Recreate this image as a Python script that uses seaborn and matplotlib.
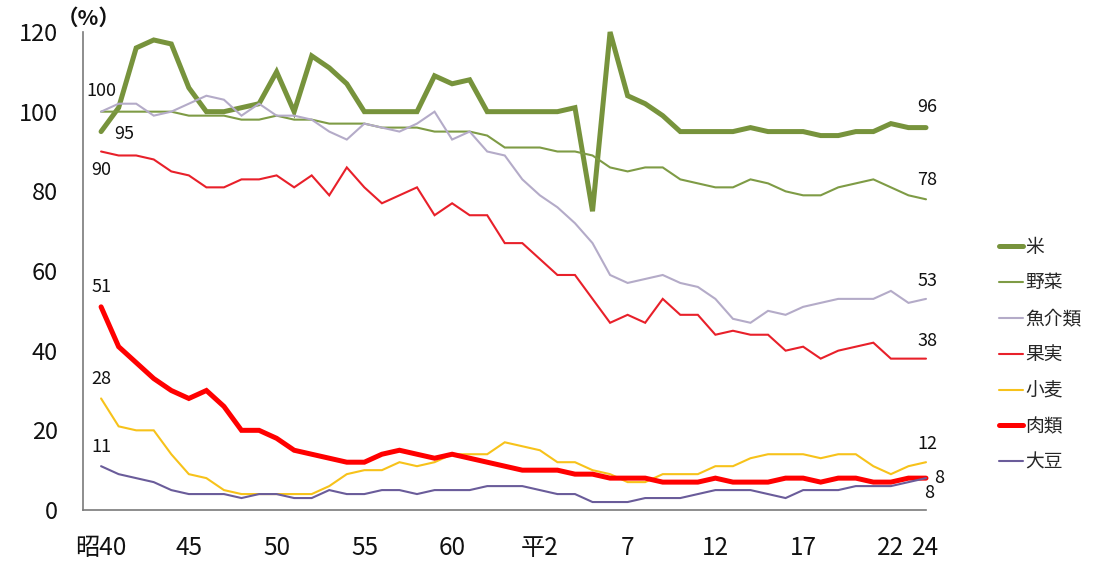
import matplotlib
matplotlib.use("Agg")
import matplotlib.pyplot as plt
from matplotlib.lines import Line2D
import seaborn as sns
import pandas as pd

# ---- data (昭和40 = 1965 ... 平成24 = 2012) ----
year_index = list(range(48))
tick_positions = [0, 5, 10, 15, 20, 25, 30, 35, 40, 45, 47]
tick_labels = ["昭40", "45", "50", "55", "60", "平2", "7", "12", "17", "22", "24"]

rice = [95, 101, 116, 118, 117, 106, 100, 100, 101, 102,
        110, 100, 114, 111, 107, 100, 100, 100, 100, 109,
        107, 108, 100, 100, 100, 100, 100, 101, 75, 120,
        104, 102, 99, 95, 95, 95, 95, 96, 95, 95,
        95, 94, 94, 95, 95, 97, 96, 96]
vegetables = [100, 100, 100, 100, 100, 99, 99, 99, 98, 98,
              99, 98, 98, 97, 97, 97, 96, 96, 96, 95,
              95, 95, 94, 91, 91, 91, 90, 90, 89, 86,
              85, 86, 86, 83, 82, 81, 81, 83, 82, 80,
              79, 79, 81, 82, 83, 81, 79, 78]
fish = [100, 102, 102, 99, 100, 102, 104, 103, 99, 102,
        99, 99, 98, 95, 93, 97, 96, 95, 97, 100,
        93, 95, 90, 89, 83, 79, 76, 72, 67, 59,
        57, 58, 59, 57, 56, 53, 48, 47, 50, 49,
        51, 52, 53, 53, 53, 55, 52, 53]
fruit = [90, 89, 89, 88, 85, 84, 81, 81, 83, 83,
         84, 81, 84, 79, 86, 81, 77, 79, 81, 74,
         77, 74, 74, 67, 67, 63, 59, 59, 53, 47,
         49, 47, 53, 49, 49, 44, 45, 44, 44, 40,
         41, 38, 40, 41, 42, 38, 38, 38]
wheat = [28, 21, 20, 20, 14, 9, 8, 5, 4, 4,
         4, 4, 4, 6, 9, 10, 10, 12, 11, 12,
         14, 14, 14, 17, 16, 15, 12, 12, 10, 9,
         7, 7, 9, 9, 9, 11, 11, 13, 14, 14,
         14, 13, 14, 14, 11, 9, 11, 12]
meat = [51, 41, 37, 33, 30, 28, 30, 26, 20, 20,
        18, 15, 14, 13, 12, 12, 14, 15, 14, 13,
        14, 13, 12, 11, 10, 10, 10, 9, 9, 8,
        8, 8, 7, 7, 7, 8, 7, 7, 7, 8,
        8, 7, 8, 8, 7, 7, 8, 8]
soybean = [11, 9, 8, 7, 5, 4, 4, 4, 3, 4,
           4, 3, 3, 5, 4, 4, 5, 5, 4, 5,
           5, 5, 6, 6, 6, 5, 4, 4, 2, 2,
           2, 3, 3, 3, 4, 5, 5, 5, 4, 3,
           5, 5, 5, 6, 6, 6, 7, 8]

series_names = ["米", "野菜", "魚介類", "果実", "小麦", "肉類", "大豆"]
series_values = [rice, vegetables, fish, fruit, wheat, meat, soybean]

colors = {"米": "#77933C", "野菜": "#7E9B45", "魚介類": "#B4ABC8", "果実": "#E8202A",
          "小麦": "#F7C21A", "肉類": "#FF0000", "大豆": "#6A5C9A"}
widths = {"米": 3.6, "野菜": 1.5, "魚介類": 1.5, "果実": 1.5,
          "小麦": 1.5, "肉類": 3.6, "大豆": 1.5}

df = pd.DataFrame({
    "idx": [i for _ in series_names for i in year_index],
    "value": [v for vals in series_values for v in vals],
    "item": [n for n in series_names for _ in year_index],
})

sns.set_theme(style="white")
plt.rcParams["font.family"] = ["Noto Sans CJK JP", "DejaVu Sans"]

fig = plt.figure(figsize=(11.02, 5.61), dpi=100)
ax = fig.add_axes([83 / 1102, 51 / 561, (926 - 83) / 1102, (510 - 32) / 561])

for name in series_names:
    sub = df[df["item"] == name]
    sns.lineplot(data=sub, x="idx", y="value", ax=ax, color=colors[name],
                 linewidth=widths[name], legend=False, solid_joinstyle="miter")
for line in ax.get_lines():
    line.set_clip_on(False)

ax.set_xlim(-1.03, 47)
ax.set_ylim(0, 120)
ax.set_xlabel("")
ax.set_ylabel("")

ax.set_xticks(year_index)
ax.set_xticklabels([tick_labels[tick_positions.index(i)] if i in tick_positions else ""
                    for i in year_index])
ax.set_yticks([0, 20, 40, 60, 80, 100, 120])

for side in ["top", "right"]:
    ax.spines[side].set_visible(False)
for side in ["left", "bottom"]:
    ax.spines[side].set_color("#7a7a7a")
    ax.spines[side].set_linewidth(1.2)

ax.tick_params(axis="x", direction="in", length=6, width=1, color="#7a7a7a",
               labelsize=17.5, pad=18, labelcolor="#111111")
ax.tick_params(axis="y", direction="in", length=6, width=1, color="#7a7a7a",
               labelsize=17, pad=18, labelcolor="#111111")

fig.text(57 / 1102, 1 - 18 / 561, "（%）", fontsize=15.5, fontweight="bold",
         ha="left", va="center", color="#111111")

ann_size = 13
def ann(x, y, txt, dx, dy):
    ax.annotate(txt, xy=(x, y), xytext=(dx, dy), textcoords="offset points",
                ha="center", va="center", fontsize=ann_size, color="#111111")

ann(0, vegetables[0], "100", 0, 15)
ann(0, rice[0], "95", 16.5, -2)
ann(0, fruit[0], "90", 0, -13.5)
ann(0, meat[0], "51", 0, 14)
ann(0, wheat[0], "28", 0, 14)
ann(0, soybean[0], "11", 0, 14)
ann(47, rice[-1], "96", 1, 15)
ann(47, vegetables[-1], "78", 1, 14)
ann(47, fish[-1], "53", 1, 13)
ann(47, fruit[-1], "38", 1, 13)
ann(47, wheat[-1], "12", 1, 13)
ann(47, meat[-1], "8", 9.5, 0)
ann(47, soybean[-1], "8", 2, -11)

handles = [Line2D([0], [0], color=colors[n], linewidth=widths[n]) for n in series_names]
leg = fig.legend(handles, series_names, loc="upper left",
                 bbox_to_anchor=(991 / 1102, 1 - 229 / 561), frameon=False,
                 fontsize=13.5, handlelength=1.33, handletextpad=0.1,
                 labelspacing=0.795, borderaxespad=0)

fig.savefig("out.png", dpi=100, facecolor="white")
